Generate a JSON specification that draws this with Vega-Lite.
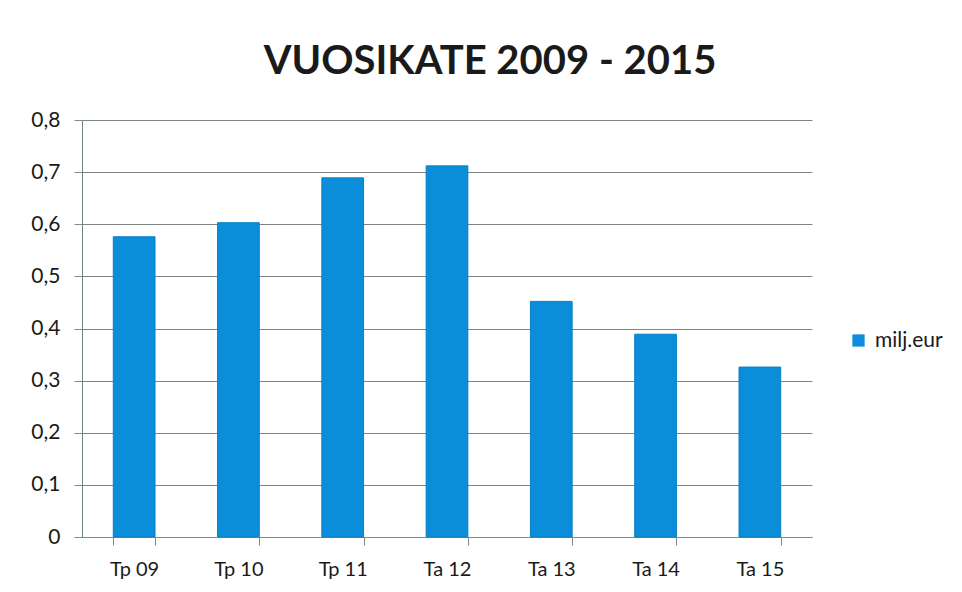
{
  "$schema": "https://vega.github.io/schema/vega-lite/v6.json",
  "width": 730,
  "height": 417,
  "autosize": "none",
  "padding": {"left": 82, "top": 120, "right": 150, "bottom": 55},
  "background": "white",
  "title": {
    "text": "VUOSIKATE 2009 - 2015",
    "font": "Lato",
    "fontSize": 40,
    "fontWeight": "bold",
    "color": "#1a1a1a",
    "anchor": "middle",
    "dx": 43,
    "offset": 27
  },
  "data": {
    "values": [
      {"period": "Tp 09", "value": 0.576, "series": "milj.eur"},
      {"period": "Tp 10", "value": 0.603, "series": "milj.eur"},
      {"period": "Tp 11", "value": 0.689, "series": "milj.eur"},
      {"period": "Ta 12", "value": 0.712, "series": "milj.eur"},
      {"period": "Ta 13", "value": 0.452, "series": "milj.eur"},
      {"period": "Ta 14", "value": 0.389, "series": "milj.eur"},
      {"period": "Ta 15", "value": 0.326, "series": "milj.eur"}
    ]
  },
  "mark": {"type": "bar", "stroke": "#0a7fc4", "strokeWidth": 1},
  "encoding": {
    "x": {
      "field": "period",
      "type": "nominal",
      "sort": null,
      "title": null,
      "scale": {"paddingInner": 0.6, "paddingOuter": 0.3},
      "axis": {
        "labelAngle": 0,
        "labelFont": "Lato",
        "labelFontSize": 20,
        "labelColor": "#1a1a1a",
        "labelPadding": 14,
        "domainColor": "#7f8a8a",
        "tickColor": "#7f8a8a",
        "tickBand": "extent",
        "tickSize": 8,
        "grid": false
      }
    },
    "y": {
      "field": "value",
      "type": "quantitative",
      "title": null,
      "scale": {"domain": [0, 0.8], "nice": false},
      "axis": {
        "values": [0, 0.1, 0.2, 0.3, 0.4, 0.5, 0.6, 0.7, 0.8],
        "labelExpr": "datum.value == 0 ? '0' : replace(format(datum.value, '.1f'), '.', ',')",
        "labelFont": "Lato",
        "labelFontSize": 21,
        "labelColor": "#1a1a1a",
        "labelPadding": 14,
        "domainColor": "#6f8a7a",
        "tickColor": "#7f8a8a",
        "tickSize": 8,
        "gridColor": "#7f8585",
        "gridWidth": 1.2
      }
    },
    "color": {
      "field": "series",
      "type": "nominal",
      "scale": {"range": ["#0b8ed9"]},
      "legend": {
        "title": null,
        "orient": "none",
        "legendX": 766,
        "legendY": 210,
        "symbolType": "square",
        "symbolSize": 150,
        "symbolStrokeWidth": 0,
        "labelFont": "Lato",
        "labelFontSize": 21,
        "labelColor": "#1a1a1a",
        "labelOffset": 6
      }
    }
  },
  "config": {
    "view": {"stroke": null}
  }
}
